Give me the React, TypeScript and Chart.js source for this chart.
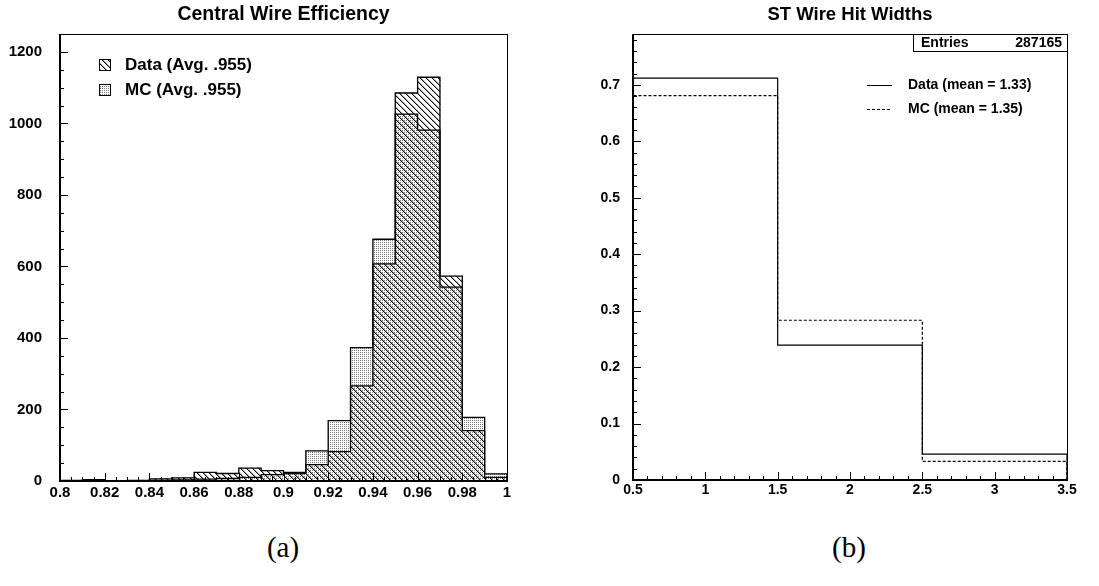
import React, { useEffect, useRef } from "react";
import { Chart, registerables } from "chart.js";

Chart.register(...registerables);

// ---------- (a) Central Wire Efficiency ----------
const effBinEdges = [0.8, 0.81, 0.82, 0.83, 0.84, 0.85, 0.86, 0.87, 0.88, 0.89, 0.9, 0.91, 0.92, 0.93, 0.94, 0.95, 0.96, 0.97, 0.98, 0.99, 1.0];
const effData = [2, 4, 1, 2, 6, 9, 24, 21, 36, 29, 24, 46, 82, 266, 607, 1085, 1129, 573, 141, 10];
const effMC = [1, 1, 1, 1, 2, 3, 5, 7, 10, 18, 21, 84, 169, 373, 676, 1026, 981, 542, 178, 20];
const effTitle = "Central Wire Efficiency";
const effLegend = ["Data (Avg. .955)", "MC (Avg. .955)"];

// ---------- (b) ST Wire Hit Widths ----------
const widthBinEdges = [0.5, 1.5, 2.5, 3.5];
const widthData = [0.712, 0.239, 0.046];
const widthMC = [0.681, 0.283, 0.033];
const widthTitle = "ST Wire Hit Widths";
const widthLegend = ["Data (mean = 1.33)", "MC (mean = 1.35)"];
const statsLabel = "Entries";
const statsValue = "287165";

const captions = ["(a)", "(b)"];

const FONT = "'Liberation Sans', Arial, Helvetica, sans-serif";

function centers(edges: number[]) {
  return edges.slice(0, -1).map((e, i) => (e + edges[i + 1]) / 2);
}
function outline(edges: number[], values: number[]) {
  const pts = [{ x: edges[0], y: 0 }];
  edges.forEach((e, i) => pts.push({ x: e, y: values[Math.min(i, values.length - 1)] }));
  pts.push({ x: edges[edges.length - 1], y: 0 });
  return pts;
}

function makeHatch(): CanvasPattern {
  const n = 6;
  const c = document.createElement("canvas");
  c.width = n;
  c.height = n;
  const g = c.getContext("2d")!;
  for (let i = 0; i < n; i++) {
    g.fillStyle = "#000";
    g.fillRect(i, i, 1, 1);
    g.fillStyle = "rgba(0,0,0,0.35)";
    g.fillRect((i + 1) % n, i, 1, 1);
  }
  return g.createPattern(c, "repeat")!;
}
function makeDots(): CanvasPattern {
  const c = document.createElement("canvas");
  c.width = 2;
  c.height = 2;
  const g = c.getContext("2d")!;
  g.fillStyle = "#fff";
  g.fillRect(0, 0, 2, 2);
  g.fillStyle = "#7a7a7a";
  g.fillRect(0, 0, 1, 1);
  return g.createPattern(c, "repeat")!;
}

type AxisTicks = { min: number; max: number; minor: number; every: number };

function makeFramePlugin(xT: AxisTicks, yT: AxisTicks) {
  return {
    id: "rootFrame",
    afterDatasetsDraw(chart: any) {
      const { ctx, chartArea: a, scales } = chart;
      const xs = scales.x;
      const ys = scales.y;
      ctx.save();
      ctx.strokeStyle = "#000";
      ctx.lineWidth = 1;
      ctx.strokeRect(Math.round(a.left) + 0.5, Math.round(a.top) + 0.5, Math.round(a.right - a.left), Math.round(a.bottom - a.top));
      ctx.beginPath();
      const nx = Math.round((xT.max - xT.min) / xT.minor);
      for (let i = 0; i <= nx; i++) {
        const v = xT.min + i * xT.minor;
        const px = Math.round(xs.getPixelForValue(v)) + 0.5;
        const len = i % xT.every === 0 ? 8 : 4;
        ctx.moveTo(px, a.bottom);
        ctx.lineTo(px, a.bottom - len);
      }
      const ny = Math.floor((yT.max - yT.min) / yT.minor + 1e-6);
      for (let i = 0; i <= ny; i++) {
        const v = yT.min + i * yT.minor;
        const py = Math.round(ys.getPixelForValue(v)) + 0.5;
        const len = i % yT.every === 0 ? 8 : 4;
        ctx.moveTo(a.left, py);
        ctx.lineTo(a.left + len, py);
      }
      ctx.stroke();
      ctx.lineWidth = 2;
      ctx.beginPath();
      ctx.moveTo(a.left, a.top);
      ctx.lineTo(a.left, a.bottom);
      ctx.lineTo(a.right, a.bottom);
      ctx.stroke();
      ctx.restore();
    },
  };
}

const fmt = (v: any) => String(Math.round(Number(v) * 1000) / 1000);

function tickFont(size: number) {
  return { family: FONT, size, weight: "bold" as const };
}

function EffChart() {
  const ref = useRef<HTMLCanvasElement>(null);
  useEffect(() => {
    const hatch = makeHatch();
    const dots = makeDots();
    const cx = centers(effBinEdges);
    const legendPlugin = {
      id: "effLegend",
      afterDraw(chart: any) {
        const ctx = chart.ctx;
        ctx.save();
        const items = [
          { fill: hatch, y: 65, text: effLegend[0] },
          { fill: dots, y: 90, text: effLegend[1] },
        ];
        items.forEach((it) => {
          ctx.fillStyle = "#fff";
          ctx.fillRect(99, it.y - 6, 12, 12);
          ctx.fillStyle = it.fill;
          ctx.fillRect(99, it.y - 6, 12, 12);
          ctx.strokeStyle = "#000";
          ctx.lineWidth = 1;
          ctx.strokeRect(99.5, it.y - 5.5, 11, 11);
          ctx.fillStyle = "#000";
          ctx.font = `bold 17px ${FONT}`;
          ctx.textBaseline = "middle";
          ctx.textAlign = "left";
          ctx.fillText(it.text, 125, it.y);
        });
        ctx.restore();
      },
    };
    const chart = new Chart(ref.current!, {
      type: "bar",
      data: {
        datasets: [
          {
            type: "line",
            label: "Data outline",
            data: outline(effBinEdges, effData),
            borderColor: "#000",
            borderWidth: 1.3,
            pointRadius: 0,
            stepped: true,
            fill: false,
            order: 0,
          } as any,
          {
            type: "line",
            label: "MC outline",
            data: outline(effBinEdges, effMC),
            borderColor: "#000",
            borderWidth: 1.3,
            pointRadius: 0,
            stepped: true,
            fill: false,
            order: 0,
          } as any,
          {
            type: "bar",
            label: "Data",
            data: cx.map((x, i) => ({ x, y: effData[i] })),
            backgroundColor: hatch,
            borderWidth: 0,
            grouped: false,
            barPercentage: 1,
            categoryPercentage: 1,
            order: 1,
          } as any,
          {
            type: "bar",
            label: "MC",
            data: cx.map((x, i) => ({ x, y: effMC[i] })),
            backgroundColor: dots,
            borderWidth: 0,
            grouped: false,
            barPercentage: 1,
            categoryPercentage: 1,
            order: 2,
          } as any,
        ],
      },
      options: {
        animation: false,
        responsive: false,
        maintainAspectRatio: false,
        layout: { padding: { left: 0, right: 53, top: 0, bottom: 0 } },
        plugins: {
          legend: { display: false },
          tooltip: { enabled: false },
          title: {
            display: true,
            text: effTitle,
            color: "#000",
            font: { family: FONT, size: 19.5, weight: "bold" },
            padding: { top: 3, bottom: 7.6 },
            fullSize: false,
          } as any,
        },
        scales: {
          x: {
            type: "linear",
            min: 0.8,
            max: 1.0,
            offset: false,
            grid: { display: false, drawTicks: false },
            border: { display: false },
            ticks: { stepSize: 0.02, padding: 3, color: "#000", font: tickFont(15), callback: fmt, maxRotation: 0, autoSkip: false },
            afterFit: (s: any) => {
              s.height = 39;
            },
          } as any,
          y: {
            type: "linear",
            min: 0,
            max: 1250,
            grid: { display: false, drawTicks: false },
            border: { display: false },
            ticks: { stepSize: 200, padding: 18, color: "#000", font: tickFont(15), callback: fmt, includeBounds: false },
            afterFit: (s: any) => {
              s.width = 60;
            },
          } as any,
        },
      },
      plugins: [
        makeFramePlugin({ min: 0.8, max: 1.0, minor: 0.005, every: 4 }, { min: 0, max: 1250, minor: 50, every: 4 }),
        legendPlugin,
      ],
    });
    return () => chart.destroy();
  }, []);
  return <canvas ref={ref} width={560} height={520} style={{ position: "absolute", left: 0, top: 0, width: 560, height: 520 }} />;
}

function WidthChart() {
  const ref = useRef<HTMLCanvasElement>(null);
  useEffect(() => {
    const offX = 560;
    const overlay = {
      id: "widthOverlay",
      afterDraw(chart: any) {
        const ctx = chart.ctx;
        const a = chart.chartArea;
        ctx.save();
        ctx.fillStyle = "#fff";
        const bx = 913 - offX;
        ctx.fillRect(bx, a.top, a.right - bx, 17);
        ctx.strokeStyle = "#000";
        ctx.lineWidth = 1;
        ctx.strokeRect(bx + 0.5, Math.round(a.top) + 0.5, Math.round(a.right - bx), 17);
        ctx.fillStyle = "#000";
        ctx.font = `bold 14px ${FONT}`;
        ctx.textBaseline = "middle";
        ctx.textAlign = "left";
        ctx.fillText(statsLabel, 921 - offX, a.top + 9);
        ctx.textAlign = "right";
        ctx.fillText(statsValue, 1062 - offX, a.top + 9);
        const items = [
          { y: 85.5, dash: [] as number[], text: widthLegend[0] },
          { y: 109.5, dash: [3, 2], text: widthLegend[1] },
        ];
        items.forEach((it) => {
          ctx.setLineDash(it.dash);
          ctx.beginPath();
          ctx.moveTo(867 - offX, it.y);
          ctx.lineTo(892 - offX, it.y);
          ctx.stroke();
          ctx.setLineDash([]);
          ctx.textAlign = "left";
          ctx.fillText(it.text, 908 - offX, it.y);
        });
        ctx.restore();
      },
    };
    const chart = new Chart(ref.current!, {
      type: "line",
      data: {
        datasets: [
          {
            label: "Data",
            data: outline(widthBinEdges, widthData),
            borderColor: "#000",
            borderWidth: 1.2,
            pointRadius: 0,
            stepped: true,
            fill: false,
          } as any,
          {
            label: "MC",
            data: outline(widthBinEdges, widthMC),
            borderColor: "#000",
            borderWidth: 1.2,
            borderDash: [3, 2],
            pointRadius: 0,
            stepped: true,
            fill: false,
          } as any,
        ],
      },
      options: {
        animation: false,
        responsive: false,
        maintainAspectRatio: false,
        layout: { padding: { left: 0, right: 32, top: 0, bottom: 0 } },
        plugins: {
          legend: { display: false },
          tooltip: { enabled: false },
          title: {
            display: true,
            text: widthTitle,
            color: "#000",
            font: { family: FONT, size: 18.5, weight: "bold" },
            padding: { top: 4, bottom: 7.8 },
            fullSize: false,
          } as any,
        },
        scales: {
          x: {
            type: "linear",
            min: 0.5,
            max: 3.5,
            offset: false,
            grid: { display: false, drawTicks: false },
            border: { display: false },
            ticks: { stepSize: 0.5, padding: 2, color: "#000", font: tickFont(14), callback: fmt, maxRotation: 0, autoSkip: false },
            afterFit: (s: any) => {
              s.height = 40;
            },
          } as any,
          y: {
            type: "linear",
            min: 0,
            max: 0.79,
            grid: { display: false, drawTicks: false },
            border: { display: false },
            ticks: { stepSize: 0.1, padding: 13, color: "#000", font: tickFont(14), callback: fmt, includeBounds: false },
            afterFit: (s: any) => {
              s.width = 73;
            },
          } as any,
        },
      },
      plugins: [
        makeFramePlugin({ min: 0.5, max: 3.5, minor: 0.1, every: 5 }, { min: 0, max: 0.79, minor: 0.02, every: 5 }),
        overlay,
      ],
    });
    return () => chart.destroy();
  }, []);
  return <canvas ref={ref} width={539} height={520} style={{ position: "absolute", left: 560, top: 0, width: 539, height: 520 }} />;
}

export default function App() {
  const capStyle = (cx: number): React.CSSProperties => ({
    position: "absolute",
    left: cx - 50,
    top: 530,
    width: 100,
    textAlign: "center",
    fontFamily: "'Liberation Serif', 'DejaVu Serif', serif",
    fontSize: 29,
    lineHeight: "34px",
    color: "#000",
  });
  return (
    <div style={{ position: "fixed", left: 0, top: 0, width: 1099, height: 586, overflow: "hidden", background: "#fff" }}>
      <EffChart />
      <WidthChart />
      <div style={capStyle(283)}>{captions[0]}</div>
      <div style={capStyle(849)}>{captions[1]}</div>
    </div>
  );
}
